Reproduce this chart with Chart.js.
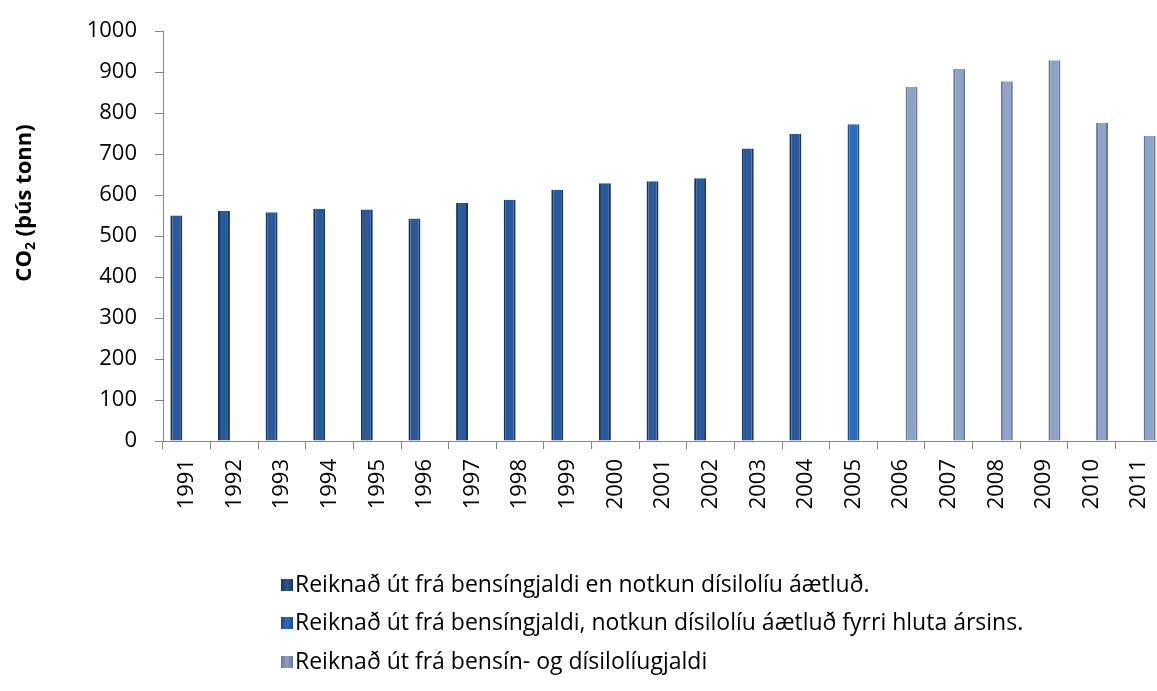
<!DOCTYPE html>
<html>
<head>
<meta charset="utf-8">
<script src="https://cdn.jsdelivr.net/npm/chart.js@4"></script>
<style>
  html, body { margin: 0; padding: 0; background: #fff; overflow: hidden; }
  #wrap { width: 1157px; height: 691px; overflow: hidden; position: relative; }
  #co2Chart { position: absolute; left: 0; top: 0; }
</style>
</head>
<body>
<div id="wrap"><canvas id="co2Chart" width="1166" height="691"></canvas></div>
<script>
// CO2 losun - ár og gildi
const years = ["1991", "1992", "1993", "1994", "1995", "1996", "1997", "1998", "1999", "2000",
  "2001", "2002", "2003", "2004", "2005", "2006", "2007", "2008", "2009", "2010", "2011"];

const fuelTaxEstimate = [550, 561, 558, 567, 565, 543, 581, 589, 613, 629,
  634, 641, 714, 749, null, null, null, null, null, null, null];
const fuelTaxPartYear = [null, null, null, null, null, null, null, null, null, null,
  null, null, null, null, 773, null, null, null, null, null, null];
const fuelAndDieselTax = [null, null, null, null, null, null, null, null, null, null,
  null, null, null, null, null, 864, 908, 878, 929, 776, 744];

const seriesLabels = [
  "Reiknað út frá bensíngjaldi en notkun dísilolíu áætluð.",
  "Reiknað út frá bensíngjaldi, notkun dísilolíu áætluð fyrri hluta ársins.",
  "Reiknað út frá bensín- og dísilolíugjaldi"
];

const yTicks = [0, 100, 200, 300, 400, 500, 600, 700, 800, 900, 1000];

const FONT = "'Open Sans', 'Noto Sans', sans-serif";
const axisGray = "#868686";

// legend + axis title drawn by hand (vertical list under the chart)
const extras = {
  id: "extras",
  afterDraw(chart) {
    const ctx = chart.ctx;
    ctx.save();
    // y axis title with subscript
    ctx.translate(25, 203);
    ctx.rotate(-Math.PI / 2);
    ctx.fillStyle = "#000";
    ctx.textBaseline = "middle";
    ctx.font = "bold 22px " + FONT;
    const w1 = ctx.measureText("CO").width;
    ctx.font = "bold 14px " + FONT;
    const w2 = ctx.measureText("2").width;
    ctx.font = "bold 22px " + FONT;
    const w3 = ctx.measureText(" (þús tonn)").width;
    let x = -(w1 + w2 + w3) / 2;
    ctx.textAlign = "left";
    ctx.fillText("CO", x, 0);
    x += w1;
    ctx.font = "bold 14px " + FONT;
    ctx.fillText("2", x, 6);
    x += w2;
    ctx.font = "bold 22px " + FONT;
    ctx.fillText(" (þús tonn)", x, 0);
    ctx.restore();

    ctx.save();
    ctx.font = "23px " + FONT;
    ctx.textBaseline = "middle";
    ctx.textAlign = "left";
    const rows = [585, 623, 662];
    chart.data.datasets.forEach((ds, i) => {
      const g = ctx.createLinearGradient(281, 0, 293, 0);
      g.addColorStop(0, ds.borderColor);
      g.addColorStop(0.5, ds.backgroundColor);
      g.addColorStop(1, ds.borderColor);
      ctx.fillStyle = g;
      ctx.fillRect(281, rows[i] - 6, 12, 12);
      ctx.fillStyle = "#000";
      ctx.fillText(ds.label, 295, rows[i]);
    });
    ctx.restore();
  }
};

const ctx = document.getElementById("co2Chart");
new Chart(ctx, {
  type: "bar",
  data: {
    labels: years,
    datasets: [
      {
        label: seriesLabels[0],
        data: fuelTaxEstimate,
        backgroundColor: "#2A5A9C",
        borderColor: "#173763",
        borderWidth: { left: 2, right: 2, top: 0, bottom: 0 },
      },
      {
        label: seriesLabels[1],
        data: fuelTaxPartYear,
        backgroundColor: "#2E6CBC",
        borderColor: "#1D4C8C",
        borderWidth: { left: 2, right: 2, top: 0, bottom: 0 },
      },
      {
        label: seriesLabels[2],
        data: fuelAndDieselTax,
        backgroundColor: "#8FA2C7",
        borderColor: "#66789C",
        borderWidth: { left: 2, right: 2, top: 0, bottom: 0 },
      },
    ],
  },
  options: {
    responsive: false,
    animation: false,
    layout: { padding: { left: 0, right: 3, top: 25, bottom: 0 } },
    datasets: {
      bar: { categoryPercentage: 0.66, barPercentage: 1.14 },
    },
    plugins: {
      legend: { display: false },
      tooltip: { enabled: false },
    },
    scales: {
      x: {
        grid: {
          offset: true,
          drawOnChartArea: false,
          color: axisGray,
          tickLength: 8,
        },
        border: { color: axisGray, width: 1 },
        ticks: {
          color: "#000",
          font: { family: FONT, size: 22 },
          minRotation: 90,
          maxRotation: 90,
          padding: 10,
          autoSkip: false,
        },
        afterFit(scale) {
          scale.height = 250;
          scale.paddingLeft = 0;
          scale.paddingRight = 0;
        },
      },
      y: {
        min: 0,
        max: 1000,
        afterBuildTicks(scale) {
          scale.ticks = yTicks.map((v) => ({ value: v }));
        },
        grid: {
          drawOnChartArea: false,
          color: axisGray,
          tickLength: 8,
        },
        border: { color: axisGray, width: 1 },
        ticks: {
          color: "#000",
          font: { family: FONT, size: 22 },
          padding: 18,
          callback: (v) => String(v),
        },
        afterFit(scale) {
          scale.width = 163;
        },
      },
    },
  },
  plugins: [extras],
});
</script>
</body>
</html>
